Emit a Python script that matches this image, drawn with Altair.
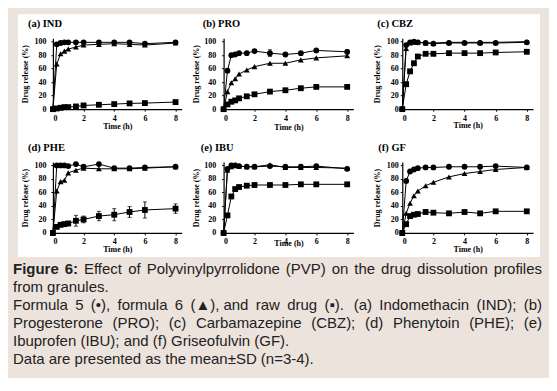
import altair as alt
import pandas as pd

# ---------------- data ----------------
T = [0, 0.25, 0.5, 0.75, 1, 1.5, 2, 3, 4, 5, 6, 8]
X_TICKS = [0, 2, 4, 6, 8]
Y_TICKS = [0, 20, 40, 60, 80, 100]

IND_F5 = [0, 96, 98, 99, 99, 99, 99, 99, 99, 99, 97, 99]
IND_F6 = [0, 67, 82, 86, 89, 92, 95, 96, 97, 96, 95, 98]
IND_RAW = [0, 1, 2, 3, 3, 4, 5.5, 6.5, 7.5, 8.5, 9, 10.5]

PRO_F5 = [0, 57, 80, 81, 83, 83, 86, 83, 81, 83, 87, 85]
PRO_F6 = [0, 26, 39, 45, 52, 58, 63, 68, 68, 73, 76, 79]
PRO_RAW = [0, 7, 11, 13, 16, 19, 22, 26, 28, 31, 33, 33]
PRO_F5_SD = [0, 0, 0, 0, 0, 0, 0, 5, 0, 0, 0, 3]

CBZ_F5 = [0, 95, 99, 100, 99, 98, 97, 98, 98, 98, 98, 99]
CBZ_F6 = [0, 90, 98, 99, 99, 98, 98, 99, 99, 99, 99, 100]
CBZ_RAW = [0, 37, 56, 68, 78, 82, 82, 83, 83, 83, 84, 85]

PHE_F5 = [0, 100, 100, 100, 99, 102, 98, 102, 96, 96, 97, 98]
PHE_F6 = [0, 62, 76, 78, 89, 93, 96, 95, 95, 95, 96, 98]
PHE_RAW = [0, 9, 12, 13, 14, 18, 20, 25, 27, 31, 34, 36]
PHE_RAW_SD = [0, 2, 3, 3, 3, 8, 5, 7, 9, 8, 12, 7]

IBU_F5 = [0, 95, 100, 100, 99, 98, 98, 99, 98, 98, 99, 95]
IBU_F6 = [0, 93, 98, 101, 99, 98, 98, 101, 97, 97, 97, 96]
IBU_RAW = [0, 26, 54, 65, 68, 70, 71, 71, 71, 72, 72, 72]

GF_F5 = [0, 77, 91, 94, 96, 97, 97, 98, 98, 98, 99, 97]
GF_F6 = [0, 29, 44, 55, 62, 70, 75, 83, 88, 91, 94, 97]
GF_RAW = [0, 13, 25, 27, 28, 31, 30, 29, 31, 29, 32, 32]

PANEL_KEYS = ["IND", "PRO", "CBZ", "PHE", "IBU", "GF"]
PANEL_TITLES = ["(a) IND", "(b) PRO", "(c) CBZ", "(d) PHE", "(e) IBU", "(f) GF"]
SERIES = ["f5", "f6", "raw"]
SHAPES = ["circle", "triangle-up", "square"]

DATA = {
    "IND": (IND_F5, IND_F6, IND_RAW),
    "PRO": (PRO_F5, PRO_F6, PRO_RAW),
    "CBZ": (CBZ_F5, CBZ_F6, CBZ_RAW),
    "PHE": (PHE_F5, PHE_F6, PHE_RAW),
    "IBU": (IBU_F5, IBU_F6, IBU_RAW),
    "GF": (GF_F5, GF_F6, GF_RAW),
}
ERRS = {("PRO", "f5"): PRO_F5_SD, ("PHE", "raw"): PHE_RAW_SD}

CAPTION_BOLD = "Figure 6:"
CAPTION_LINES = [
    "Effect of Polyvinylpyrrolidone (PVP) on the drug dissolution profiles",
    "from granules.",
    "Formula 5 (\u2022), formula 6 (\u25b2), and raw drug (\u25aa). (a) Indomethacin (IND); (b)",
    "Progesterone (PRO); (c) Carbamazepine (CBZ); (d) Phenytoin (PHE); (e)",
    "Ibuprofen (IBU); and (f) Griseofulvin (GF).",
    "Data are presented as the mean\u00b1SD (n=3-4).",
]
JUSTIFIED = [True, False, True, True, False, False]

rows = []
for key in PANEL_KEYS:
    for s, vals in zip(SERIES, DATA[key]):
        errs = ERRS.get((key, s), [0] * len(T))
        for t, v, e in zip(T, vals, errs):
            rows.append({"panel": key, "s": s, "t": t, "v": v, "err": e})
df = pd.DataFrame(rows)

BG = "#ece3dd"
TXT = "#222222"
H = 71
SERIF = "Liberation Serif"
SANS = "Liberation Sans"
FS = 15

# Arial / Liberation Sans advance widths (1/1000 em), for justifying caption lines
_W = {" ": 278, "(": 333, ")": 333, ";": 278, ".": 278, ",": 278, ":": 278,
      "-": 333, "=": 584, "\u00b1": 584, "\u2022": 350, "\u25b2": 770,
      "\u25aa": 520}
_W.update({c: 556 for c in "0123456789"})
_W.update(dict(zip("abcdefghijklmnopqrstuvwxyz",
                   [556, 556, 500, 556, 556, 278, 556, 556, 222, 222, 500, 222,
                    833, 556, 556, 556, 556, 333, 500, 278, 556, 500, 722, 500,
                    500, 500])))
_W.update(dict(zip("ABCDEFGHIJKLMNOPQRSTUVWXYZ",
                   [667, 667, 722, 722, 667, 611, 778, 722, 278, 500, 667, 556,
                    833, 722, 778, 667, 778, 722, 667, 611, 722, 667, 944, 667,
                    667, 611])))
_WB = {"F": 611, "i": 278, "g": 611, "u": 611, "r": 389, "e": 556, "6": 556,
       ":": 333, " ": 278}


def tw(s, bold=False):
    tab = _WB if bold else _W
    return sum(tab.get(c, 556) for c in s) * FS / 1000.0


def one(d=None):
    return alt.Chart(pd.DataFrame(d if d is not None else {"k": [0]}))


def word_layer(word, x, y, bold=False, align="left"):
    return one({"w": [word]}).mark_text(
        align=align, baseline="alphabetic", font=SANS,
        fontWeight="bold" if bold else "normal", fontSize=FS, color=TXT
    ).encode(text="w:N", x=alt.value(round(x, 2)), y=alt.value(y))


# caption placement, relative to the plot origin of panel (a)
CAP_X0, CAP_X1 = -40, 490
CAP_Y0, CAP_DY = 236, 18


def caption_layers():
    layers = []
    for i, line in enumerate(CAPTION_LINES):
        y = CAP_Y0 + i * CAP_DY
        words = [(w, False) for w in line.split(" ")]
        if i == 0:
            words = [(w, True) for w in CAPTION_BOLD.split(" ")] + words
        if not JUSTIFIED[i]:
            layers.append(word_layer(line, CAP_X0, y))
            continue
        nat = sum(tw(w, b) for w, b in words)
        gap = (CAP_X1 - CAP_X0 - nat) / (len(words) - 1)
        x = CAP_X0
        for j, (w, b) in enumerate(words):
            if j == len(words) - 1:
                layers.append(word_layer(w, CAP_X1, y, b, align="right"))
            else:
                layers.append(word_layer(w, x, y, b))
            x += tw(w, b) + gap
    return layers


def panel(idx, width, ytx, ylp, xty, tdx, extra=()):
    key = PANEL_KEYS[idx]
    d = df[df.panel == key]
    xs = alt.Scale(domain=[0, 8.4], nice=False, zero=False)
    ys = alt.Scale(domain=[0, 105], nice=False)
    xax = alt.Axis(values=X_TICKS, title="Time (h)", titleY=xty,
                   titleBaseline="middle", labelPadding=3, zindex=1)
    yax = alt.Axis(values=Y_TICKS, title="Drug release (%)", titleX=ytx,
                   titleY=H / 2, titleBaseline="middle", labelPadding=ylp,
                   zindex=1)

    def X():
        return alt.X("t:Q", scale=xs, axis=xax)

    def Y(f):
        return alt.Y(f, scale=ys, axis=yax)

    base = alt.Chart(d)
    lines = base.mark_line(color="black", strokeWidth=1).encode(
        x=X(), y=Y("v:Q"), detail="s:N", order="t:Q")
    eb = base.transform_filter("datum.err > 0").transform_calculate(
        lo="datum.v - datum.err", hi="datum.v + datum.err")
    rules = eb.mark_rule(color="black", strokeWidth=1).encode(
        x=X(), y=Y("lo:Q"), y2="hi:Q")
    cap_lo = eb.mark_tick(orient="horizontal", size=4, thickness=1,
                          color="black").encode(x=X(), y=Y("lo:Q"))
    cap_hi = eb.mark_tick(orient="horizontal", size=4, thickness=1,
                          color="black").encode(x=X(), y=Y("hi:Q"))
    pts = base.mark_point(filled=True, size=34, opacity=1, color="black").encode(
        x=X(), y=Y("v:Q"),
        shape=alt.Shape("s:N", scale=alt.Scale(domain=SERIES, range=SHAPES),
                        legend=None))
    ttl = one({"label": [PANEL_TITLES[idx]]}).mark_text(
        align="left", baseline="alphabetic", font=SERIF, fontWeight="bold",
        fontSize=10.5, color="black").encode(
        text="label:N", x=alt.value(tdx), y=alt.value(-11))
    return alt.layer(*extra, lines, rules, cap_lo, cap_hi, pts, ttl).properties(
        width=width, height=H)


# page decorations (relative to panel (a) plot origin)
beige = one().mark_rect(color=BG).encode(
    x=alt.value(-44), x2=alt.value(496), y=alt.value(-29), y2=alt.value(339))
white = one().mark_rect(color="white").encode(
    x=alt.value(-35), x2=alt.value(488), y=alt.value(-24), y2=alt.value(219))

pa = panel(0, 129, -27, 5, 17, -25, extra=[beige, white] + caption_layers())
pb = panel(1, 130, -27, 6, 18, -21)
pc = panel(2, 131, -25, 2, 16.5, -25)
pd_ = panel(3, 129, -27, 5, 17, -25)
pe = panel(4, 130, -27, 6, 11, -23)
pf = panel(5, 131, -25, 2, 17, -24)

row1 = alt.hconcat(pa, alt.hconcat(pb, pc, spacing=49, bounds="flush"),
                   spacing=42, bounds="flush")
row2 = alt.hconcat(pd_, alt.hconcat(pe, pf, spacing=49, bounds="flush"),
                   spacing=42, bounds="flush")

# nested rows count as zero-height in a flush layout: spacing = row pitch
chart = alt.vconcat(row1, row2, spacing=124, bounds="flush").properties(
    padding=0, background=BG
).configure_view(stroke="transparent").configure_axis(
    grid=False, domainColor="black", domainWidth=1.2, tickColor="black",
    tickSize=2, tickWidth=1, labelFont=SERIF, labelFontSize=8,
    labelFontWeight="bold", labelColor="black", titleFont=SERIF,
    titleFontSize=8, titleFontWeight="bold", titleColor="black")

chart.save("out.html", embed_options={"renderer": "svg", "actions": False})
